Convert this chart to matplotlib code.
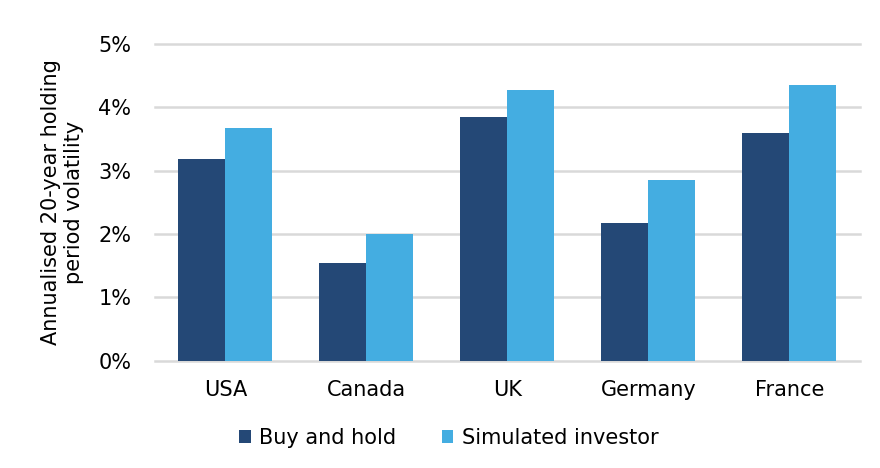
import matplotlib.pyplot as plt
import numpy as np
from matplotlib.ticker import PercentFormatter

countries = ['USA', 'Canada', 'UK', 'Germany', 'France']
buy_hold = [3.18, 1.54, 3.84, 2.17, 3.60]
simulated = [3.68, 2.00, 4.28, 2.86, 4.36]

dark = '#244876'
light = '#44ADE1'

plt.rcParams['font.family'] = 'DejaVu Sans'
fig = plt.figure(figsize=(8.8, 4.68), dpi=100)
ax = fig.add_axes([0.176, 0.229, 0.801, 0.677])

x = np.arange(len(countries))
w = 0.333
ax.bar(x - w/2, buy_hold, w, color=dark, label='Buy and hold', zorder=3)
ax.bar(x + w/2, simulated, w, color=light, label='Simulated investor', zorder=3)

ax.set_xlim(-0.5, len(countries) - 0.5)
ax.set_ylim(0, 5)
ax.set_yticks(range(0, 6))
ax.yaxis.set_major_formatter(PercentFormatter(decimals=0))
ax.set_xticks(x)
ax.set_xticklabels(countries)
ax.grid(axis='y', color='#D9D9D9', linewidth=1.8, zorder=0)
for gl in ax.get_ygridlines():
    gl.set_clip_on(False)
ax.tick_params(length=0, labelsize=15, colors='black')
ax.tick_params(axis='y', pad=17)
ax.tick_params(axis='x', pad=14)
for s in ax.spines.values():
    s.set_visible(False)

ax.set_ylabel('Annualised 20-year holding\nperiod volatility', fontsize=15, labelpad=10)

fig.legend(loc='center', bbox_to_anchor=(0.51, 0.064), ncol=2, frameon=False,
           fontsize=15, handlelength=0.55, handleheight=0.55, handletextpad=0.4,
           columnspacing=2.2)

fig.savefig('out.png')
